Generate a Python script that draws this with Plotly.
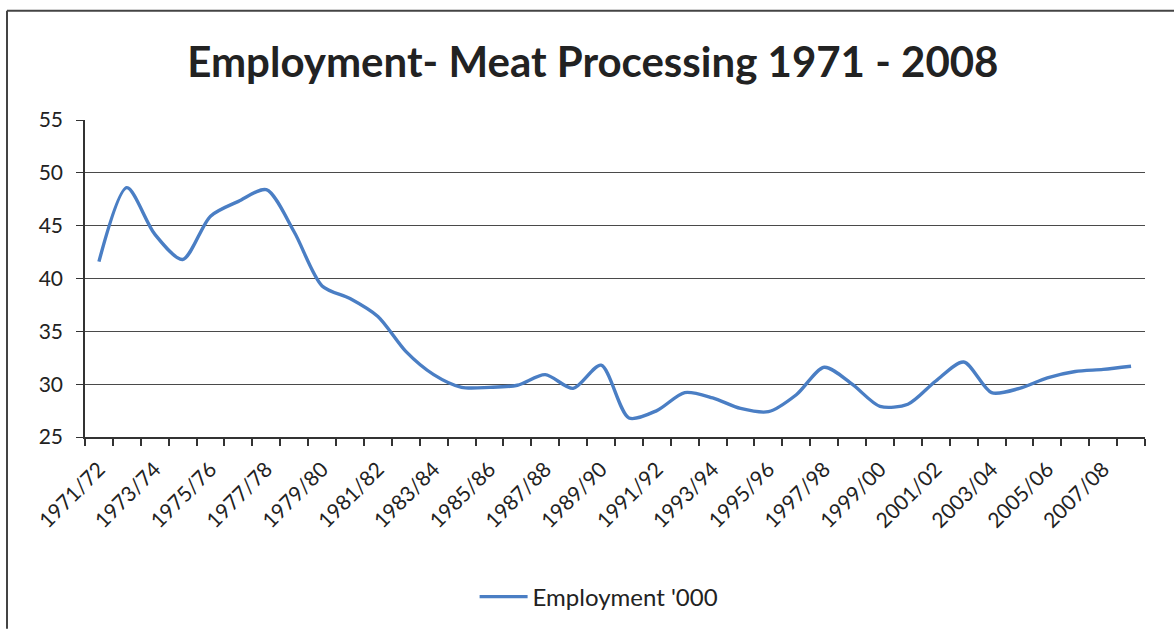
import plotly.graph_objects as go

categories = [f"{y}/{str(y + 1)[-2:]}" for y in range(1971, 2009)]
employment = [41.6, 48.6, 44.2, 41.8, 45.9, 47.3, 48.4, 44.4, 39.3, 38.1,
              36.4, 33.1, 30.9, 29.7, 29.7, 29.9, 30.9, 29.6, 31.8, 26.8,
              27.5, 29.2, 28.7, 27.7, 27.4, 29.0, 31.6, 30.0, 27.9, 28.1,
              30.3, 32.1, 29.2, 29.6, 30.6, 31.2, 31.4, 31.7]
y_ticks = [25, 30, 35, 40, 45, 50, 55]
title_text = "Employment- Meat Processing 1971 - 2008"
series_name = "Employment '000"

n = len(categories)
xpos = [i + 0.5 for i in range(n)]
label_pos = xpos[::2]
label_text = categories[::2]

FONT = "Lato, Calibri, Carlito, sans-serif"

fig = go.Figure()
fig.add_trace(go.Scatter(
    x=xpos, y=employment, mode="lines", name=series_name,
    line=dict(color="#4a7ec4", width=3.4, shape="spline", smoothing=0.8),
    customdata=categories,
    hovertemplate="%{customdata}: %{y}<extra></extra>",
))

W, H = 1174, 632
L, R, T, B = 85, 1145, 120, 439


def px_x(x):
    return (x - L) / (R - L)


def px_y(y):
    return (B - y) / (B - T)


fig.update_layout(
    width=W, height=H,
    margin=dict(l=L, r=W - R, t=T, b=H - B),
    paper_bgcolor="white", plot_bgcolor="white",
    font=dict(family=FONT, color="#222222", size=20),
    title=dict(text="<b>" + title_text + "</b>", x=0.505, xanchor="center",
               y=1 - 62 / H, yanchor="middle",
               font=dict(family=FONT, size=42, color="#222222")),
    showlegend=True,
    legend=dict(orientation="h", x=0.485, xanchor="center", y=px_y(600), yanchor="middle",
                font=dict(family=FONT, size=24, color="#222222"), itemwidth=48,
                bgcolor="rgba(0,0,0,0)"),
    xaxis=dict(range=[0, n], tickvals=label_pos, ticktext=label_text, tickangle=-45,
               ticks="", showgrid=False, zeroline=False, showline=True,
               linecolor="#333333", linewidth=1.5, ticklabelstandoff=10,
               tickfont=dict(family=FONT, size=21, color="#222222"),
               minor=dict(tickvals=list(range(n + 1)), ticks="outside", ticklen=7,
                          tickcolor="#333333", tickwidth=1.5, showgrid=False)),
    yaxis=dict(range=[25, 55], tickvals=y_ticks, ticks="outside", ticklen=7,
               tickcolor="#333333", tickwidth=1.2, showgrid=True, gridcolor="#4a4a4a",
               gridwidth=1.2, zeroline=False, showline=True, linecolor="#333333",
               linewidth=1.5, ticklabelstandoff=9,
               tickfont=dict(family=FONT, size=21, color="#222222")),
)

# chart area border (top and left edges visible)
fig.add_shape(type="line", xref="paper", yref="paper",
              x0=px_x(7), x1=px_x(1174), y0=px_y(10), y1=px_y(10),
              line=dict(color="#444444", width=2))
fig.add_shape(type="line", xref="paper", yref="paper",
              x0=px_x(7), x1=px_x(7), y0=px_y(10), y1=px_y(632),
              line=dict(color="#444444", width=2))

fig.write_html("out.html", config={"displayModeBar": False},
               post_script="document.body.style.margin='0';document.body.style.overflow='hidden';")
